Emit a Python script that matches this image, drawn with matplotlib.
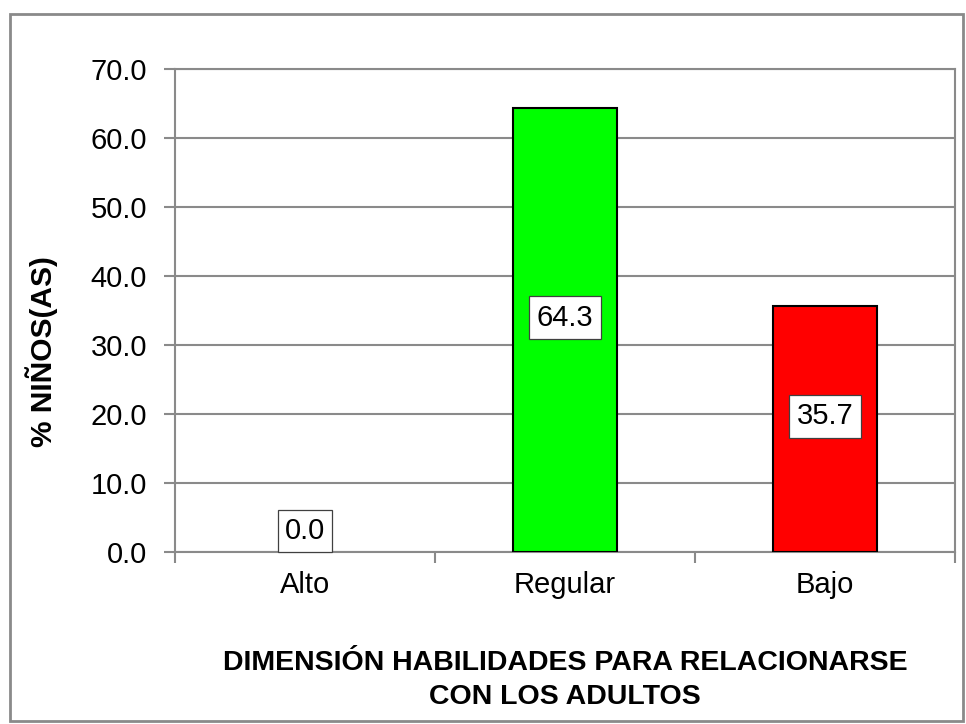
import matplotlib.pyplot as plt
from matplotlib.patches import Rectangle

categorias = ["Alto", "Regular", "Bajo"]
porcentajes = [0.0, 64.3, 35.7]
colores = ["#00ff00", "#00ff00", "#ff0000"]
yticks = [0, 10, 20, 30, 40, 50, 60, 70]

plt.rcParams['font.family'] = ['Liberation Sans', 'DejaVu Sans']
gris = "#8a8a8a"

fig = plt.figure(figsize=(9.66, 7.24), dpi=100)
ax = fig.add_axes([175 / 966, 1 - 552 / 724, 780 / 966, 483 / 724])

# marco gris alrededor del grafico
fig.patches.append(Rectangle((10 / 966, 3 / 724), 953 / 966, 707 / 724, transform=fig.transFigure,
                             fill=False, edgecolor=gris, linewidth=2))

x = list(range(len(categorias)))
bordes = ["black" if v > 0 else "none" for v in porcentajes]
ax.bar(x, porcentajes, width=0.40, color=colores, edgecolor=bordes, linewidth=1.5, zorder=3)

caja = dict(boxstyle="square,pad=0.25", facecolor="white", edgecolor="#404040", linewidth=0.9)
for i, v in enumerate(porcentajes):
    if v > 0:
        ax.annotate(f"{v:.1f}", (i, v / 2), xytext=(0, 9), textcoords="offset points",
                    ha="center", va="center", fontsize=21, zorder=4, bbox=caja)
    else:
        ax.annotate(f"{v:.1f}", (i, v), xytext=(0, 5), textcoords="offset points",
                    ha="center", va="bottom", fontsize=21, zorder=4, bbox=caja)

ax.set_xlim(-0.5, 2.5)
ax.set_ylim(0, 70)
ax.set_yticks(yticks)
ax.set_yticklabels([f"{t:.1f}" for t in yticks], fontsize=21)
ax.set_xticks(x)
ax.set_xticklabels(categorias, fontsize=21)
ax.tick_params(axis="x", length=0, pad=14)
ax.set_xticks([-0.5, 0.5, 1.5, 2.5], minor=True)
ax.tick_params(axis="x", which="minor", length=8, color=gris, width=1.5)
ax.tick_params(axis="y", length=8, color=gris, width=1.5, pad=12)

ax.grid(axis="y", color=gris, linewidth=1.5, zorder=0)
for s in ax.spines.values():
    s.set_color(gris)
    s.set_linewidth(1.5)

ax.set_ylabel("% NIÑOS(AS)", fontsize=21.5, fontweight="bold")
ax.yaxis.set_label_coords(-0.15, 0.416)
ax.set_xlabel("DIMENSIÓN HABILIDADES PARA RELACIONARSE\nCON LOS ADULTOS", fontsize=20.5,
              fontweight="bold", linespacing=1.4)
ax.xaxis.set_label_coords(0.5, -0.203)

fig.savefig("out.png", dpi=100)
